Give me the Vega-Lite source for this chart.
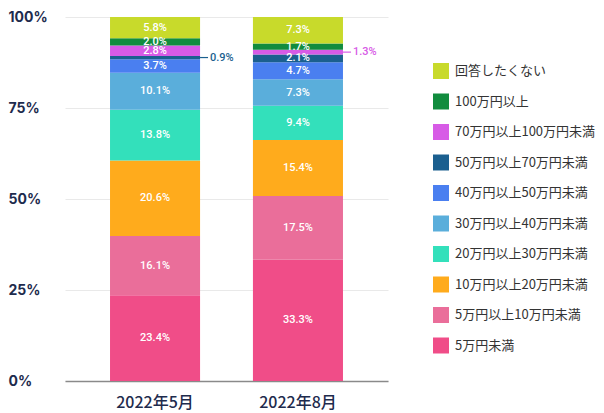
{
  "$schema": "https://vega.github.io/schema/vega-lite/v6.json",
  "width": 323,
  "height": 364,
  "autosize": {"type": "none"},
  "padding": {"left": 65, "top": 17, "right": 216, "bottom": 32},
  "background": "white",
  "config": {"view": {"stroke": null}, "font": "Noto Sans CJK JP"},
  "data": {"values": [
    {"period": "2022年5月", "category": "5万円未満", "rank": 1, "value": 23.4},
    {"period": "2022年5月", "category": "5万円以上10万円未満", "rank": 2, "value": 16.1},
    {"period": "2022年5月", "category": "10万円以上20万円未満", "rank": 3, "value": 20.6},
    {"period": "2022年5月", "category": "20万円以上30万円未満", "rank": 4, "value": 13.8},
    {"period": "2022年5月", "category": "30万円以上40万円未満", "rank": 5, "value": 10.1},
    {"period": "2022年5月", "category": "40万円以上50万円未満", "rank": 6, "value": 3.7},
    {"period": "2022年5月", "category": "50万円以上70万円未満", "rank": 7, "value": 0.9},
    {"period": "2022年5月", "category": "70万円以上100万円未満", "rank": 8, "value": 2.8},
    {"period": "2022年5月", "category": "100万円以上", "rank": 9, "value": 2.0},
    {"period": "2022年5月", "category": "回答したくない", "rank": 10, "value": 5.8},
    {"period": "2022年8月", "category": "5万円未満", "rank": 1, "value": 33.3},
    {"period": "2022年8月", "category": "5万円以上10万円未満", "rank": 2, "value": 17.5},
    {"period": "2022年8月", "category": "10万円以上20万円未満", "rank": 3, "value": 15.4},
    {"period": "2022年8月", "category": "20万円以上30万円未満", "rank": 4, "value": 9.4},
    {"period": "2022年8月", "category": "30万円以上40万円未満", "rank": 5, "value": 7.3},
    {"period": "2022年8月", "category": "40万円以上50万円未満", "rank": 6, "value": 4.7},
    {"period": "2022年8月", "category": "50万円以上70万円未満", "rank": 7, "value": 2.1},
    {"period": "2022年8月", "category": "70万円以上100万円未満", "rank": 8, "value": 1.3},
    {"period": "2022年8月", "category": "100万円以上", "rank": 9, "value": 1.7},
    {"period": "2022年8月", "category": "回答したくない", "rank": 10, "value": 7.3}
  ]},
  "transform": [
    {"stack": "value", "groupby": ["period"], "sort": [{"field": "rank", "order": "ascending"}], "offset": "normalize", "as": ["y0", "y1"]},
    {"calculate": "(datum.y0 + datum.y1) / 2", "as": "ymid"},
    {"calculate": "format(datum.value, '.1f') + '%'", "as": "label"}
  ],
  "encoding": {
    "x": {
      "field": "period", "type": "nominal", "sort": null,
      "scale": {"paddingInner": 0.37, "paddingOuter": 0.315},
      "axis": {
        "title": null, "labelAngle": 0, "ticks": false,
        "domain": true, "domainColor": "#8a8a8a", "domainWidth": 1.5,
        "labelFont": "Noto Sans CJK JP", "labelFontSize": 16, "labelFontWeight": 500,
        "labelColor": "#1e2b4d", "labelPadding": 13
      }
    }
  },
  "layer": [
    {
      "mark": {"type": "bar"},
      "encoding": {
        "y": {
          "field": "y0", "type": "quantitative", "scale": {"domain": [0, 1]},
          "axis": {
            "title": null, "values": [0, 0.25, 0.5, 0.75, 1], "format": ".0%",
            "grid": true, "gridColor": "#e9e9e9", "domain": false, "ticks": false,
            "labelAlign": "left", "labelPadding": 57, "labelFont": "Inter",
            "labelFontSize": 14, "labelFontWeight": 700, "labelColor": "#1e2b4d"
          }
        },
        "y2": {"field": "y1"},
        "color": {
          "field": "category", "type": "nominal",
          "scale": {
            "domain": ["回答したくない", "100万円以上", "70万円以上100万円未満", "50万円以上70万円未満", "40万円以上50万円未満", "30万円以上40万円未満", "20万円以上30万円未満", "10万円以上20万円未満", "5万円以上10万円未満", "5万円未満"],
            "range": ["#c8da2b", "#118c3e", "#d75be6", "#1b5f8f", "#4a7ff0", "#5aaedb", "#33e0bb", "#ffab1c", "#ea6e9a", "#f04d88"]
          },
          "legend": {
            "title": null, "orient": "none", "legendX": 368, "legendY": 46,
            "symbolType": "square", "symbolSize": 256, "symbolStrokeWidth": 0, "symbolOpacity": 1,
            "labelFont": "Noto Sans CJK JP", "labelFontSize": 13, "labelColor": "#333333",
            "labelOffset": 6, "rowPadding": 14.5
          }
        }
      }
    },
    {
      "transform": [{"filter": "datum.value >= 1.5"}],
      "mark": {"type": "text", "color": "white", "font": "Roboto", "fontSize": 11, "fontWeight": 500, "baseline": "middle"},
      "encoding": {
        "y": {"field": "ymid", "type": "quantitative"},
        "text": {"field": "label"}
      }
    },
    {
      "transform": [{"filter": "datum.value < 1.5"}],
      "mark": {"type": "tick", "xOffset": 49, "size": 8, "thickness": 1.2, "orient": "horizontal", "opacity": 1},
      "encoding": {
        "y": {"field": "ymid", "type": "quantitative"},
        "color": {"field": "category", "type": "nominal", "legend": null}
      }
    },
    {
      "transform": [{"filter": "datum.value < 1.5"}],
      "mark": {"type": "text", "xOffset": 55, "align": "left", "baseline": "middle", "font": "Roboto", "fontSize": 11, "fontWeight": 500},
      "encoding": {
        "y": {"field": "ymid", "type": "quantitative"},
        "text": {"field": "label"},
        "color": {"field": "category", "type": "nominal", "legend": null}
      }
    }
  ]
}
